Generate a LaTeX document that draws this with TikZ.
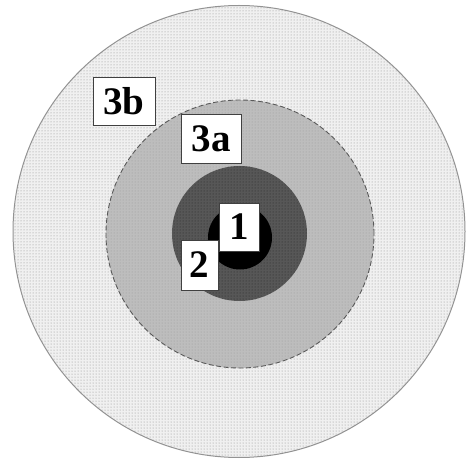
\documentclass[tikz,border=0pt]{standalone}
\usepackage{fontspec}
\setmainfont{Liberation Serif}
\usetikzlibrary{patterns}
\begin{document}
\begin{tikzpicture}[x=1pt,y=1pt,
  lab/.style={draw=black!75, line width=0.9pt, fill=white, inner sep=0pt,
    font=\fontsize{39}{39}\selectfont\bfseries},
]
\useasboundingbox (0,0) rectangle (468,458);
\fill[white] (0,0) rectangle (468,458);
% outer zone 3b
\draw[draw=gray!85, line width=1pt, fill=gray!12] (239,226.5) circle (226);
\fill[pattern=dots, pattern color=gray!90] (239,226.5) circle (225.5);
% zone 3a
\fill[gray!52] (240,224) circle (134);
\fill[pattern=dots, pattern color=gray!80] (240,224) circle (134);
\draw[gray!70!black, line width=0.9pt, dash pattern=on 5pt off 2.5pt] (240,224) circle (134);
% zone 2
\fill[black!66] (239.5,224.5) circle (67.5);
\fill[pattern=dots, pattern color=black!85] (239.5,224.5) circle (67.5);
% zone 1
\fill[black] (240,220.5) circle (32);
% labels
\node[lab, minimum width=62pt, minimum height=48pt] (l3b) at (124,357) {3b};
\node[lab, minimum width=60pt, minimum height=49pt] (l3a) at (211,319.5) {3a};
\node[lab, minimum width=37pt, minimum height=50pt] (l2) at (199.5,193) {2};
\node[lab, minimum width=40pt, minimum height=48pt] (l1) at (239,231) {1};
\end{tikzpicture}
\end{document}
